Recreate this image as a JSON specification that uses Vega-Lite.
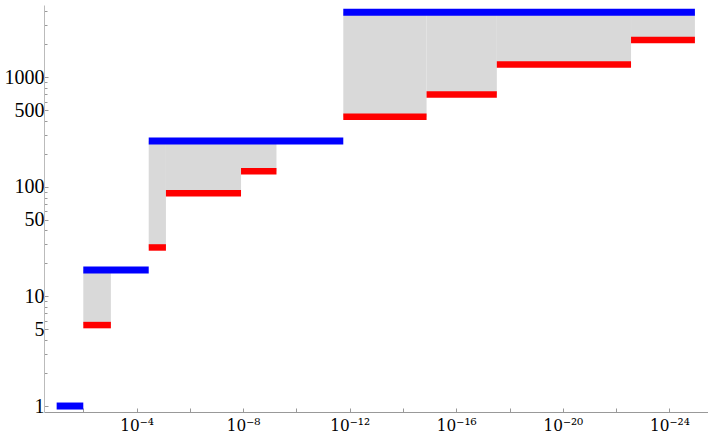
{
  "$schema": "https://vega.github.io/schema/vega-lite/v6.json",
  "autosize": {"type": "none"},
  "padding": {"left": 44, "top": 5, "right": 0, "bottom": 28},
  "width": 664,
  "height": 407,
  "config": {"view": {"stroke": null}, "background": "white"},
  "datasets": {
    "blue": [
      {"x1": 0.1, "x2": 0.01, "y": 1},
      {"x1": 0.01, "x2": 3.5e-5, "y": 17.4},
      {"x1": 3.5e-5, "x2": 1.74e-12, "y": 262},
      {"x1": 1.74e-12, "x2": 1.1e-25, "y": 3935}
    ],
    "red": [
      {"x1": 0.01, "x2": 0.00092, "y": 5.48, "top": 17.4},
      {"x1": 3.5e-5, "x2": 7.9e-6, "y": 28, "top": 262},
      {"x1": 7.9e-6, "x2": 1.2e-8, "y": 87.3, "top": 262},
      {"x1": 1.2e-8, "x2": 5.6e-10, "y": 139, "top": 262},
      {"x1": 1.74e-12, "x2": 1.3e-15, "y": 436, "top": 3935},
      {"x1": 1.3e-15, "x2": 3e-18, "y": 698, "top": 3935},
      {"x1": 3e-18, "x2": 2.75e-23, "y": 1312, "top": 3935},
      {"x1": 2.75e-23, "x2": 1.1e-25, "y": 2185, "top": 3935}
    ]
  },
  "layer": [
    {
      "data": {"name": "red"},
      "mark": {"type": "rect", "color": "#d9d9d9"},
      "encoding": {
        "x": {
          "field": "x1", "type": "quantitative",
          "scale": {"type": "log", "domain": [3.55e-26, 0.2985], "reverse": true, "nice": false, "zero": false},
          "axis": {
            "title": null,
            "values": [1e-2, 1e-4, 1e-6, 1e-8, 1e-10, 1e-12, 1e-14, 1e-16, 1e-18, 1e-20, 1e-22, 1e-24],
            "labelExpr": "(round(-log(datum.value)/LN10) % 4 == 0) ? '10⁻' + ['','⁴','⁸','¹²','¹⁶','²⁰','²⁴'][round(-log(datum.value)/LN10)/4] : ''",
            "labelOverlap": false,
            "labelFlush": false,
            "labelFont": "DejaVu Serif Condensed",
            "labelFontSize": 17,
            "labelColor": "black",
            "labelPadding": 9,
            "tickSize": -4,
            "tickColor": "#999999",
            "domainColor": "#999999",
            "grid": false
          }
        },
        "x2": {"field": "x2"},
        "y": {
          "field": "y", "type": "quantitative",
          "scale": {"type": "log", "domain": [0.882, 4571], "nice": false, "zero": false},
          "axis": {
            "title": null,
            "values": [1,2,3,4,5,6,7,8,9,10,20,30,40,50,60,70,80,90,100,200,300,400,500,600,700,800,900,1000,2000,3000,4000],
            "labelExpr": "indexof([1,5,10,50,100,500,1000], datum.value) >= 0 ? datum.value + '' : ''",
            "labelOverlap": false,
            "labelFlush": false,
            "labelFont": "Liberation Serif",
            "labelFontSize": 20,
            "labelColor": "black",
            "labelPadding": 4,
            "tickSize": {"expr": "indexof([1,5,10,50,100,500,1000], datum.value) >= 0 ? -4 : -3"},
            "tickColor": "#999999",
            "domainColor": "#bbbbbb",
            "grid": false
          }
        },
        "y2": {"field": "top"}
      }
    },
    {
      "data": {"name": "red"},
      "mark": {"type": "rule", "color": "#ff0000", "strokeWidth": 6.5, "strokeCap": "butt"},
      "encoding": {
        "x": {"field": "x1", "type": "quantitative"},
        "x2": {"field": "x2"},
        "y": {"field": "y", "type": "quantitative"}
      }
    },
    {
      "data": {"name": "blue"},
      "mark": {"type": "rule", "color": "#0000ff", "strokeWidth": 7, "strokeCap": "butt"},
      "encoding": {
        "x": {"field": "x1", "type": "quantitative"},
        "x2": {"field": "x2"},
        "y": {"field": "y", "type": "quantitative"}
      }
    }
  ]
}
